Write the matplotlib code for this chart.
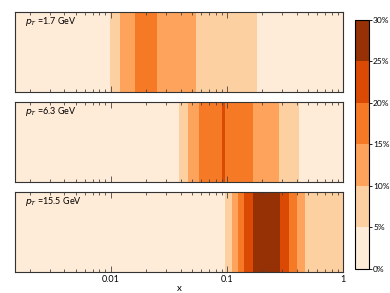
import numpy as np
import matplotlib
matplotlib.use('Agg')
import matplotlib.pyplot as plt
from matplotlib.colors import ListedColormap, BoundaryNorm
from matplotlib.ticker import FixedLocator, LogLocator, NullFormatter

# band edges in x and fraction (%) in each band, one set per pT bin
pt_labels = ['1.7', '6.3', '15.5']

x_edges_1 = [0.0015, 0.0098, 0.012, 0.0161, 0.0249, 0.054, 0.18, 1.0]
frac_1 = [2, 7, 12, 17, 13, 8, 3]

x_edges_2 = [0.0015, 0.0385, 0.0462, 0.0574, 0.0906, 0.0962, 0.1666, 0.2806, 0.418, 1.0]
frac_2 = [1, 8, 13, 18, 21, 18, 14, 9, 3]

x_edges_3 = [0.0015, 0.0962, 0.1098, 0.1236, 0.140, 0.1685, 0.286, 0.342, 0.4036, 0.47, 1.0]
frac_3 = [2, 7, 12, 17, 23, 27, 22, 17, 12, 8]

levels = [0, 5, 10, 15, 20, 25, 30]
level_labels = ['0%', '5%', '10%', '15%', '20%', '25%', '30%']
colors = ['#feebd8', '#fdd0a2', '#fda35c', '#f67a26', '#db4a04', '#953104']

cmap = ListedColormap(colors)
norm = BoundaryNorm(levels, ncolors=len(colors))

plt.rcParams['font.family'] = ['Lato', 'DejaVu Sans']
plt.rcParams['mathtext.fontset'] = 'dejavusans'

fig = plt.figure(figsize=(3.9, 2.93), dpi=100)

panel_bottoms = [0.686, 0.379, 0.0717]
data = [(x_edges_1, frac_1), (x_edges_2, frac_2), (x_edges_3, frac_3)]

for i, (edges, frac) in enumerate(data):
    ax = fig.add_axes([0.0385, panel_bottoms[i], 0.841, 0.273])
    mesh = ax.pcolormesh(edges, [0, 1], np.array([frac]), cmap=cmap, norm=norm)
    ax.set_xscale('log')
    ax.set_xlim(0.0015, 1)
    ax.set_ylim(0, 1)
    ax.set_yticks([])
    ax.xaxis.set_major_locator(FixedLocator([0.01, 0.1, 1]))
    ax.xaxis.set_minor_locator(LogLocator(base=10, subs=np.arange(2, 10)))
    ax.xaxis.set_minor_formatter(NullFormatter())
    ax.tick_params(axis='x', which='both', direction='in', top=True, bottom=True,
                   labelsize=6.5, color='#444444', width=0.6, pad=2)
    ax.tick_params(axis='x', which='major', length=4)
    ax.tick_params(axis='x', which='minor', length=2)
    for s in ax.spines.values():
        s.set_color('#333333')
        s.set_linewidth(0.8)
    if i < 2:
        ax.set_xticklabels([])
    else:
        ax.set_xticklabels(['0.01', '0.1', '1'])
        ax.set_xlabel('x', fontsize=7, labelpad=0)
    ax.text(0.03, 0.88, r'$p_T$ =' + pt_labels[i] + ' GeV', transform=ax.transAxes,
            fontsize=6.5, va='center', ha='left')

cax = fig.add_axes([0.910, 0.082, 0.036, 0.850])
cb = fig.colorbar(mesh, cax=cax, ticks=levels)
cb.ax.set_yticklabels(level_labels)
cb.ax.tick_params(labelsize=6, length=2, width=0.6, pad=1)
cb.outline.set_linewidth(0.8)

plt.savefig('out.png', dpi=100)
